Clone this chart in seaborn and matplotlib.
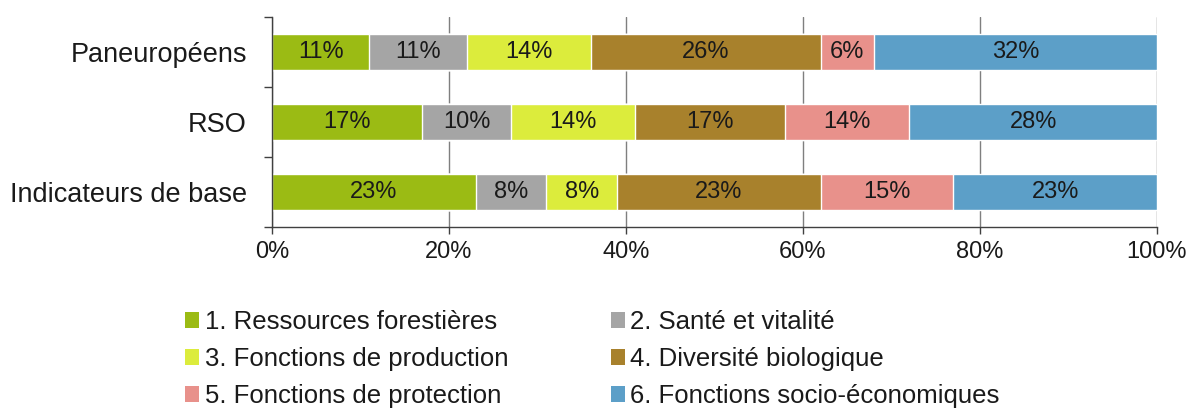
import numpy as np
import pandas as pd
import matplotlib
matplotlib.use("Agg")
import matplotlib.pyplot as plt
from matplotlib.patches import Patch
import seaborn as sns

groups = ["Paneuropéens", "RSO", "Indicateurs de base"]
criteria = ["1. Ressources forestières", "2. Santé et vitalité",
            "3. Fonctions de production", "4. Diversité biologique",
            "5. Fonctions de protection", "6. Fonctions socio-économiques"]
paneuropeens = [11, 11, 14, 26, 6, 32]
rso = [17, 10, 14, 17, 14, 28]
indicateurs = [23, 8, 8, 23, 15, 23]
colors = ["#9bbb14", "#a5a5a5", "#dcec3c", "#a8812c", "#e8918b", "#5c9fc8"]

sns.set_theme(style="white")
plt.rcParams["font.family"] = ["Liberation Sans", "DejaVu Sans"]

vals = np.array([paneuropeens, rso, indicateurs], dtype=float)
cum = vals.cumsum(axis=1)
df = pd.DataFrame(cum, index=groups, columns=criteria)

fig = plt.figure(figsize=(11.92, 4.16), dpi=100)
ax = fig.add_axes([272 / 1192, 1 - 227 / 416, (1157 - 272) / 1192, 210 / 416])

# draw cumulative totals from the last category back so each layer shows its segment
for j in range(len(criteria) - 1, -1, -1):
    sub = pd.DataFrame({"grp": groups, "val": df[criteria[j]].values})
    sns.barplot(data=sub, y="grp", x="val", orient="h", color=colors[j],
                width=0.52, saturation=1, ax=ax, zorder=2)

for i in range(len(groups)):
    left = 0
    for j in range(len(criteria)):
        ax.text(left + vals[i, j] / 2, i, f"{int(vals[i, j])}%", ha="center",
                va="center", fontsize=17, color="#1a1a1a", zorder=3)
        left += vals[i, j]

ax.set_xlim(0, 100)
ax.set_ylim(2.5, -0.5)
ax.set_xticks([0, 20, 40, 60, 80, 100])
ax.set_xticklabels(["0%", "20%", "40%", "60%", "80%", "100%"])
ax.set_xlabel("")
ax.set_ylabel("")
ax.xaxis.grid(True, color="#7f7f7f", linewidth=1)
ax.set_axisbelow(True)
ax.tick_params(axis="x", labelsize=17, length=5, width=1, color="#404040",
               bottom=True, pad=5, labelcolor="#1a1a1a")
ax.set_yticks([0, 1, 2])
ax.set_yticklabels(groups)
ax.tick_params(axis="y", labelsize=19.5, length=0, pad=18, labelcolor="#1a1a1a")
ax.set_yticks([-0.5, 0.5, 1.5, 2.5], minor=True)
ax.tick_params(axis="y", which="minor", length=6, width=1, color="#404040", left=True)
for s in ["top", "right"]:
    ax.spines[s].set_visible(False)
for s in ["left", "bottom"]:
    ax.spines[s].set_color("#404040")
    ax.spines[s].set_linewidth(1)

order = [0, 2, 4, 1, 3, 5]
handles = [Patch(facecolor=colors[k], edgecolor="none") for k in order]
labels = [criteria[k] for k in order]
fig.legend(handles, labels, ncol=2, loc="upper left",
           bbox_to_anchor=(175 / 1192, 1 - 300 / 416), frameon=False,
           fontsize=18.5, handlelength=0.55, handleheight=0.55, handletextpad=0.2,
           columnspacing=4.0, labelspacing=0.5, borderaxespad=0,
           labelcolor="#1a1a1a")

fig.savefig("out.png", dpi=100, facecolor="white")
